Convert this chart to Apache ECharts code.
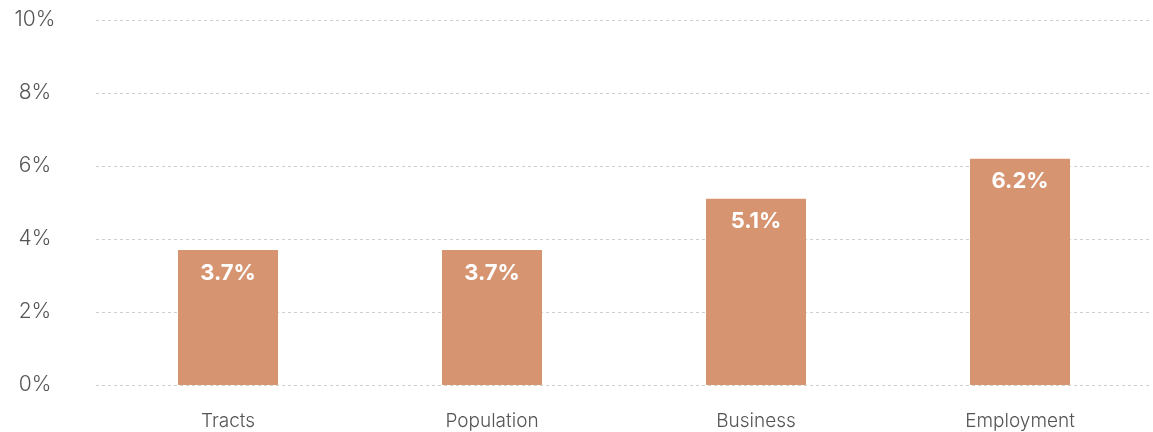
<!DOCTYPE html>
<html>
<head>
<meta charset="utf-8">
<script src="https://cdn.jsdelivr.net/npm/echarts@6/dist/echarts.min.js"></script>
<style>
  html, body { margin: 0; padding: 0; background: #fff; }
  #main { width: 1153px; height: 432px; }
</style>
</head>
<body>
<div id="main"></div>
<script>
var categories = ['Tracts', 'Population', 'Business', 'Employment'];
var shares = [3.7, 3.7, 5.1, 6.2];
var yTicks = { min: 0, max: 10, interval: 2 };

var chart = echarts.init(document.getElementById('main'));
chart.setOption({
    animation: false,
    textStyle: { fontFamily: 'Inter, Roboto, sans-serif' },
    grid: { left: 96, right: 1, top: 20, bottom: 47 },
    xAxis: {
        type: 'category',
        data: categories,
        axisLine: { show: false },
        axisTick: { show: false },
        axisLabel: {
            color: '#555',
            fontSize: 19,
            fontWeight: 300,
            margin: 27
        }
    },
    yAxis: {
        type: 'value',
        min: yTicks.min,
        max: yTicks.max,
        interval: yTicks.interval,
        axisLine: { show: false },
        axisTick: { show: false },
        axisLabel: {
            formatter: '{value}%',
            color: '#555',
            fontSize: 21,
            fontWeight: 300,
            align: 'center',
            margin: 61
        },
        splitLine: {
            lineStyle: { color: '#cfcfcf', type: [3, 3], width: 1 }
        }
    },
    series: [{
        type: 'bar',
        data: shares,
        barWidth: 100,
        itemStyle: { color: '#D69570' },
        label: {
            show: true,
            position: 'insideTop',
            distance: 12,
            color: '#fff',
            fontSize: 22,
            fontWeight: 'bold',
            formatter: function (p) { return p.value.toFixed(1) + '%'; }
        }
    }]
});
</script>
</body>
</html>
